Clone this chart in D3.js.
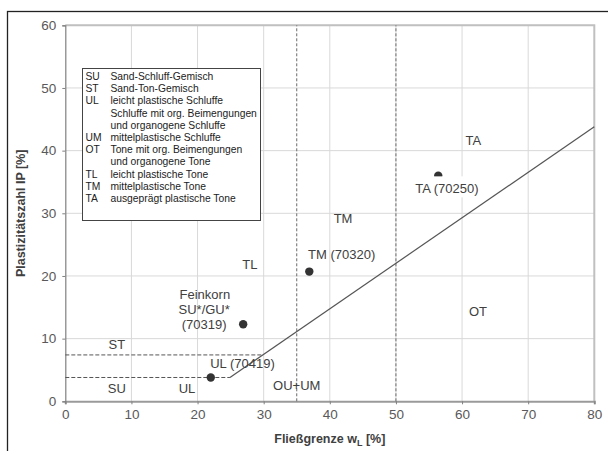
<!DOCTYPE html>
<meta charset="utf-8">
<style>
body { margin: 0; background: #fff; }
text { font-family: "Liberation Sans", Arial, sans-serif; }
</style>
<body>
<script src="https://d3js.org/d3.v7.min.js"></script>
<script>
var width = 608
var height = 451

// axes
var xTicks = [0, 10, 20, 30, 40, 50, 60, 70, 80]
var yTicks = [0, 10, 20, 30, 40, 50, 60]

// soil samples (liquid limit wL, plasticity index IP)
var sampleWL = [26.9, 22.0, 36.9, 56.4]
var sampleIP = [12.3, 3.8, 20.7, 36.0]

// A-line and boundary lines
var aLineWL = [24.9, 80]
var aLineIP = [3.8, 43.8]
var zoneIP = [3.8, 7.4]
var zoneEndWL = [24.9, 29.7]
var dividerWL = [35, 50]

// zone and sample labels, in data units
var labelText = ['SU', 'ST', 'UL', 'OU+UM', 'TL', 'TM', 'TA', 'OT',
    'Feinkorn', 'SU*/GU*', '(70319)', 'UL (70419)', 'TM (70320)', 'TA (70250)']
var labelWL = [7.8, 7.8, 18.4, 35.0, 27.9, 42.0, 61.7, 62.4,
    21.1, 21.0, 21.0, 26.8, 41.8, 57.7]
var labelIP = [2.0, 9.0, 2.0, 2.6, 21.9, 29.2, 41.6, 14.3,
    17.0, 14.6, 12.2, 6.1, 23.5, 33.9]

var legendCodes = ['SU', 'ST', 'UL', '', '', 'UM', 'OT', '', 'TL', 'TM', 'TA']
var legendTexts = ['Sand-Schluff-Gemisch', 'Sand-Ton-Gemisch', 'leicht plastische Schluffe',
    'Schluffe mit org. Beimengungen', 'und organogene Schluffe', 'mittelplastische Schluffe',
    'Tone mit org. Beimengungen', 'und organogene Tone', 'leicht plastische Tone',
    'mittelplastische Tone', 'ausgeprägt plastische Tone']

var x = d3.scaleLinear().domain([0, 80]).range([65.3, 594.3])
var y = d3.scaleLinear().domain([0, 60]).range([401.3, 25.3])

var svg = d3.select('body').append('svg')
    .attr('width', width)
    .attr('height', height)

// outer frame
svg.append('rect')
    .attr('x', 7.5).attr('y', 11.5)
    .attr('width', 620).attr('height', 460)
    .attr('fill', 'none')
    .attr('stroke', '#222')
    .attr('stroke-width', 1.3)

// grid
svg.append('g').selectAll('line')
    .data(xTicks.slice(1, -1))
    .enter().append('line')
    .attr('x1', function (d) { return x(d) }).attr('x2', function (d) { return x(d) })
    .attr('y1', y(0)).attr('y2', y(60))
    .attr('stroke', '#d9d9d9')
svg.append('g').selectAll('line')
    .data(yTicks.slice(1))
    .enter().append('line')
    .attr('x1', x(0)).attr('x2', x(80))
    .attr('y1', function (d) { return y(d) }).attr('y2', function (d) { return y(d) })
    .attr('stroke', '#d9d9d9')

// plot border (right and top)
svg.append('path')
    .attr('d', 'M' + x(0) + ',' + y(60) + 'H' + x(80) + 'V' + y(0))
    .attr('fill', 'none')
    .attr('stroke', '#c0c0c0')
    .attr('stroke-width', 2)

// axes
var xAxis = svg.append('g')
    .attr('transform', 'translate(0,' + y(0) + ')')
    .call(d3.axisBottom(x).tickValues(xTicks).tickSize(3).tickPadding(5))
var yAxis = svg.append('g')
    .attr('transform', 'translate(' + x(0) + ',0)')
    .call(d3.axisLeft(y).tickValues(yTicks).tickSize(3).tickPadding(6))
xAxis.select('.domain').attr('stroke', '#9a9a9a').attr('stroke-width', 2)
yAxis.select('.domain').attr('stroke', '#808080').attr('stroke-width', 1.2)
svg.selectAll('.tick line').attr('stroke', '#808080')
svg.selectAll('.tick text')
    .attr('fill', '#595959')
    .style('font-size', '13.5px')
    .style('font-family', '"Liberation Sans", Arial, sans-serif')

// divider lines at wL = 35 and 50
svg.append('g').selectAll('line')
    .data(dividerWL)
    .enter().append('line')
    .attr('x1', function (d) { return x(d) }).attr('x2', function (d) { return x(d) })
    .attr('y1', y(0)).attr('y2', y(60))
    .attr('stroke', '#6a6a6a')
    .attr('stroke-width', 1)
    .attr('stroke-dasharray', '3,2')

// dashed horizontal boundaries
svg.append('g').selectAll('line')
    .data(zoneIP)
    .enter().append('line')
    .attr('x1', x(0))
    .attr('x2', function (d, i) { return x(zoneEndWL[i]) })
    .attr('y1', function (d) { return y(d) }).attr('y2', function (d) { return y(d) })
    .attr('stroke', '#555')
    .attr('stroke-width', 1)
    .attr('stroke-dasharray', '4,2')

// A-line
svg.append('path')
    .datum(aLineWL.map(function (d, i) { return [d, aLineIP[i]] }))
    .attr('d', d3.line().x(function (d) { return x(d[0]) }).y(function (d) { return y(d[1]) }))
    .attr('fill', 'none')
    .attr('stroke', '#555')
    .attr('stroke-width', 1.2)

// samples
svg.append('g').selectAll('circle')
    .data(sampleWL)
    .enter().append('circle')
    .attr('cx', function (d) { return x(d) })
    .attr('cy', function (d, i) { return y(sampleIP[i]) })
    .attr('r', 4.2)
    .attr('fill', '#333')

// labels (the TA one sits on a white box that hides half of its dot)
var labels = svg.append('g').selectAll('g')
    .data(labelText)
    .enter().append('g')
    .attr('transform', function (d, i) {
        return 'translate(' + x(labelWL[i]) + ',' + y(labelIP[i]) + ')'
    })
labels.filter(function (d) { return d === 'TA (70250)' })
    .append('rect')
    .attr('x', -34).attr('y', -12.5)
    .attr('width', 68).attr('height', 21)
    .attr('fill', '#fff')
labels.append('text')
    .attr('text-anchor', 'middle')
    .attr('dy', '0.35em')
    .attr('fill', '#404040')
    .style('font-size', '13px')
    .text(function (d) { return d })

// legend
var legend = svg.append('g').attr('transform', 'translate(82.5,68.5)')
legend.append('rect')
    .attr('width', 178).attr('height', 152)
    .attr('fill', '#fff')
    .attr('stroke', '#444')
    .attr('stroke-width', 1)
legend.selectAll('.code')
    .data(legendCodes)
    .enter().append('text')
    .attr('class', 'code')
    .attr('x', 3)
    .attr('y', function (d, i) { return 11.5 + i * 12.2 })
    .attr('fill', '#222')
    .style('font-size', '10.3px')
    .text(function (d) { return d })
legend.selectAll('.desc')
    .data(legendTexts)
    .enter().append('text')
    .attr('class', 'desc')
    .attr('x', 28)
    .attr('y', function (d, i) { return 11.5 + i * 12.2 })
    .attr('fill', '#222')
    .style('font-size', '10.3px')
    .text(function (d) { return d })

// axis titles
var xTitle = svg.append('text')
    .attr('x', (x(0) + x(80)) / 2)
    .attr('y', 443)
    .attr('text-anchor', 'middle')
    .attr('fill', '#404040')
    .style('font-size', '12.5px')
    .style('font-weight', 'bold')
xTitle.append('tspan').text('Fließgrenze w')
xTitle.append('tspan').attr('dy', 3).style('font-size', '9px').text('L')
xTitle.append('tspan').attr('dy', -3).text(' [%]')

svg.append('text')
    .attr('transform', 'translate(25,' + (y(0) + y(60)) / 2 + ') rotate(-90)')
    .attr('text-anchor', 'middle')
    .attr('fill', '#404040')
    .style('font-size', '12.5px')
    .style('font-weight', 'bold')
    .text('Plastizitätszahl IP [%]')
</script>
</body>
